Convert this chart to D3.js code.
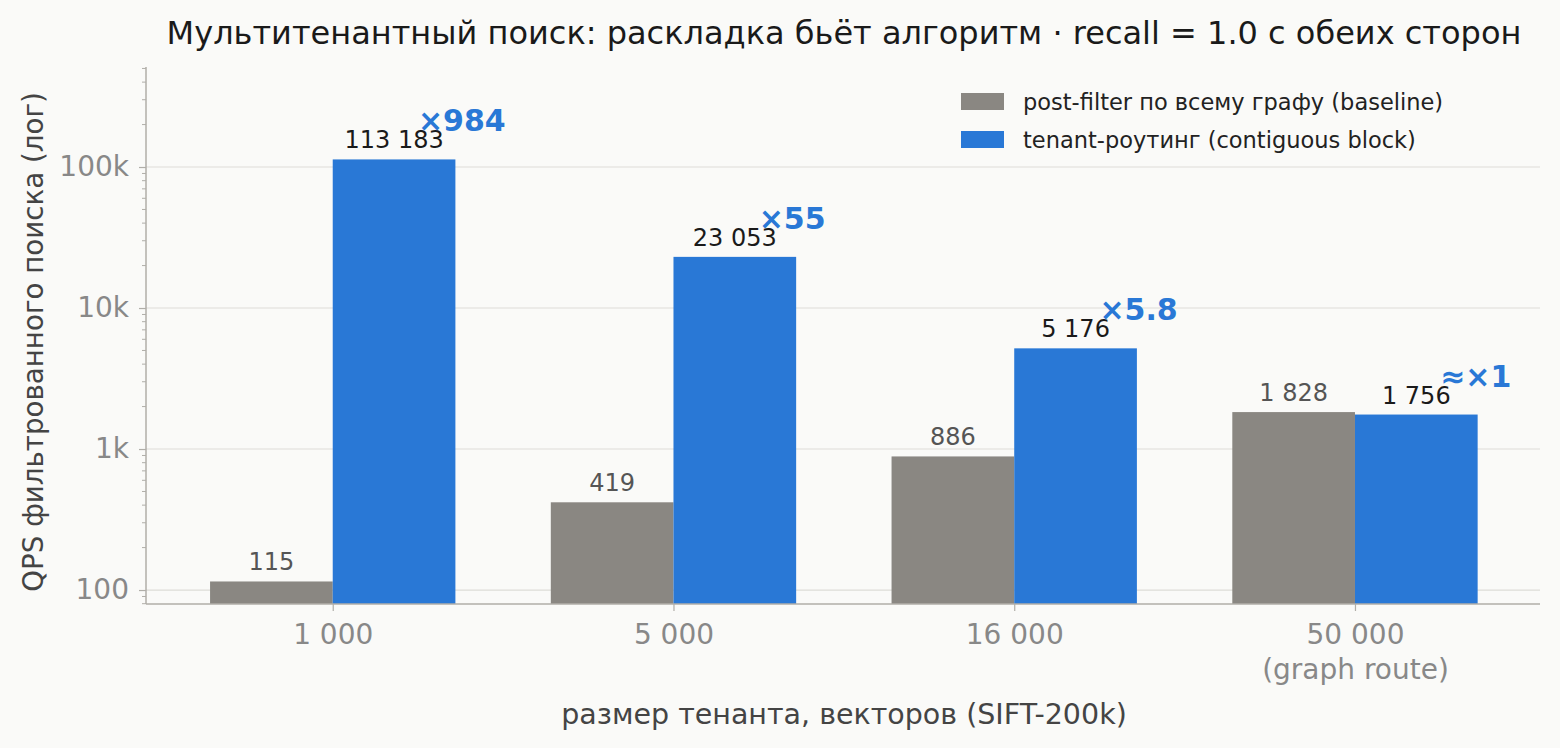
<!DOCTYPE html>
<html>
<head>
<meta charset="utf-8">
<script src="https://cdn.jsdelivr.net/npm/d3@7"></script>
<style>
  body { margin: 0; background: #fafaf8; }
  svg { display: block; font-family: "DejaVu Sans", sans-serif; }
</style>
</head>
<body>
<div id="chart"></div>
<script>
const tenantSizes = ["1 000", "5 000", "16 000", "50 000"];
const tenantNotes = ["", "", "", "(graph route)"];
const baselineQps = [115, 419, 886, 1828];
const routedQps = [113183, 23053, 5176, 1756];
const speedups = ["×984", "×55", "×5.8", "≈×1"];
const yTicks = [100, 1000, 10000, 100000];
const yTickLabels = ["100", "1k", "10k", "100k"];
const seriesNames = ["post-filter по всему графу (baseline)", "tenant-роутинг (contiguous block)"];

const width = 1560, height = 748;
const plot = { left: 146, right: 1540, top: 67, bottom: 604 };
const colors = ["#8a8782", "#2978d6"];
const barW = 0.36;
const font = "DejaVu Sans, sans-serif";

const svg = d3.select("#chart").append("svg")
  .attr("width", width)
  .attr("height", height);

svg.append("rect").attr("width", width).attr("height", height).attr("fill", "#fafaf8");

const x = d3.scaleLinear().domain([-0.548, 3.543]).range([plot.left, plot.right]);
const y = d3.scaleLog().domain([79.6, 512000]).range([plot.bottom, plot.top]);

// grid
svg.append("g")
  .selectAll("line")
  .data(yTicks).enter()
  .append("line")
    .attr("x1", plot.left).attr("x2", plot.right)
    .attr("y1", d => y(d)).attr("y2", d => y(d))
    .attr("stroke", "#dddcd7").attr("stroke-width", 1.2);

// bars
const groups = svg.append("g")
  .selectAll("g")
  .data(tenantSizes).enter()
  .append("g");

groups.append("rect")
  .attr("x", (d, i) => x(i - barW))
  .attr("width", (d, i) => x(i) - x(i - barW))
  .attr("y", (d, i) => y(baselineQps[i]))
  .attr("height", (d, i) => plot.bottom - y(baselineQps[i]))
  .attr("fill", colors[0]);

groups.append("rect")
  .attr("x", (d, i) => x(i))
  .attr("width", (d, i) => x(i + barW) - x(i))
  .attr("y", (d, i) => y(routedQps[i]))
  .attr("height", (d, i) => plot.bottom - y(routedQps[i]))
  .attr("fill", colors[1]);

const fmt = v => d3.format(",")(v).replace(/,/g, " ");

groups.append("text")
  .attr("x", (d, i) => x(i - barW / 2))
  .attr("y", (d, i) => y(baselineQps[i]) - 11)
  .attr("text-anchor", "middle")
  .attr("font-size", 24)
  .attr("fill", "#555")
  .text((d, i) => fmt(baselineQps[i]));

groups.append("text")
  .attr("x", (d, i) => x(i + barW / 2))
  .attr("y", (d, i) => y(routedQps[i]) - 11)
  .attr("text-anchor", "middle")
  .attr("font-size", 24)
  .attr("fill", "#1a1a1a")
  .text((d, i) => fmt(routedQps[i]));

// speedup notes, left edge a bit inside the blue bar
groups.append("text")
  .attr("x", (d, i) => x(i + 0.25))
  .attr("y", (d, i) => y(routedQps[i]) - 28)
  .attr("font-size", 30)
  .attr("font-weight", "bold")
  .attr("fill", colors[1])
  .text((d, i) => speedups[i]);

// y axis
const yAxis = svg.append("g")
  .attr("transform", `translate(${plot.left},0)`)
  .call(d3.axisLeft(y).tickValues(yTicks).tickFormat((d, i) => yTickLabels[i]).tickSize(7).tickPadding(10));
yAxis.select(".domain").remove();
yAxis.selectAll("line").attr("stroke", "#b0aea8").attr("stroke-width", 1.2);
yAxis.selectAll("text").attr("font-size", 28).attr("fill", "#888").attr("font-family", font);

// minor ticks
const minor = [];
for (let e = 1; e <= 5; e++) {
  for (let m = 2; m <= 9; m++) {
    const v = m * Math.pow(10, e);
    if (v >= y.domain()[0] && v <= y.domain()[1]) minor.push(v);
  }
}
svg.append("g")
  .selectAll("line")
  .data(minor).enter()
  .append("line")
    .attr("x1", plot.left - 4).attr("x2", plot.left)
    .attr("y1", d => y(d)).attr("y2", d => y(d))
    .attr("stroke", "#b0aea8").attr("stroke-width", 1);

// x axis
const xAxis = svg.append("g")
  .attr("transform", `translate(0,${plot.bottom})`)
  .call(d3.axisBottom(x).tickValues(d3.range(tenantSizes.length)).tickFormat((d, i) => tenantSizes[i]).tickSize(7).tickPadding(13));
xAxis.select(".domain").remove();
xAxis.selectAll("line").attr("stroke", "#b0aea8").attr("stroke-width", 1.2);
xAxis.selectAll("text").attr("font-size", 28).attr("fill", "#888").attr("font-family", font);
xAxis.selectAll(".tick").append("text")
  .attr("y", 55)
  .attr("dy", "0.71em")
  .attr("text-anchor", "middle")
  .attr("font-family", font)
  .attr("font-size", 28)
  .attr("fill", "#888")
  .text((d, i) => tenantNotes[i]);

// spines
svg.append("line")
  .attr("x1", plot.left).attr("x2", plot.left)
  .attr("y1", plot.top).attr("y2", plot.bottom)
  .attr("stroke", "#b0aea8").attr("stroke-width", 1.5);
svg.append("line")
  .attr("x1", plot.left).attr("x2", plot.right)
  .attr("y1", plot.bottom).attr("y2", plot.bottom)
  .attr("stroke", "#b0aea8").attr("stroke-width", 1.5);

// titles
svg.append("text")
  .attr("x", 844).attr("y", 44)
  .attr("text-anchor", "middle")
  .attr("font-size", 32)
  .attr("fill", "#1a1a1a")
  .text("Мультитенантный поиск: раскладка бьёт алгоритм · recall = 1.0 с обеих сторон");

svg.append("text")
  .attr("x", 844).attr("y", 724)
  .attr("text-anchor", "middle")
  .attr("font-size", 28.5)
  .attr("fill", "#444")
  .text("размер тенанта, векторов (SIFT-200k)");

svg.append("text")
  .attr("transform", `translate(43,342) rotate(-90)`)
  .attr("text-anchor", "middle")
  .attr("font-size", 27.7)
  .attr("fill", "#444")
  .text("QPS фильтрованного поиска (лог)");

// legend
const legend = svg.append("g")
  .selectAll("g")
  .data(seriesNames).enter()
  .append("g")
    .attr("transform", (d, i) => `translate(961,${93 + i * 38})`);
legend.append("rect")
  .attr("width", 43).attr("height", 17)
  .attr("fill", (d, i) => colors[i]);
legend.append("text")
  .attr("x", 62).attr("y", 17)
  .attr("font-size", 22.5)
  .attr("fill", "#222")
  .text(d => d);
</script>
</body>
</html>
